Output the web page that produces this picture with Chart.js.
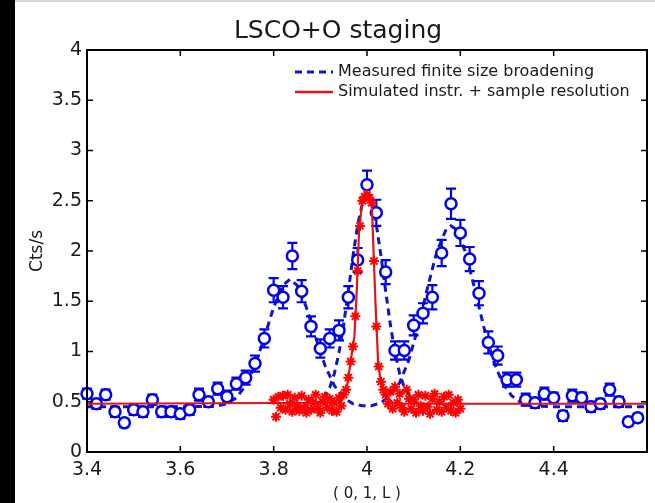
<!DOCTYPE html>
<html>
<head>
<meta charset="utf-8">
<title>LSCO+O staging</title>
<script src="https://cdn.jsdelivr.net/npm/chart.js@4/dist/chart.umd.min.js"></script>
<style>
  html, body { margin: 0; padding: 0; background: #fff; }
  #wrap { position: relative; width: 655px; height: 503px; overflow: hidden; }
  #edge { position: absolute; left: 0; top: 0; width: 15px; height: 503px; background: #000; }
  #topline { position: absolute; left: 15px; top: 0; width: 640px; height: 2px; background: #d8d8d8; }
  canvas { position: absolute; left: 0; top: 0; }
</style>
</head>
<body>
<div id="wrap">
  <div id="edge"></div>
  <div id="topline"></div>
  <canvas id="staging" width="655" height="503"></canvas>
</div>
<script>
// measured scan along (0,1,L) with error bars
const measX = [3.40, 3.42, 3.44, 3.46, 3.48, 3.50, 3.52, 3.54, 3.56, 3.58,
               3.60, 3.62, 3.64, 3.66, 3.68, 3.70, 3.72, 3.74, 3.76, 3.78,
               3.80, 3.82, 3.84, 3.86, 3.88, 3.90, 3.92, 3.94, 3.96, 3.98,
               4.00, 4.02, 4.04, 4.06, 4.08, 4.10, 4.12, 4.14, 4.16, 4.18,
               4.20, 4.22, 4.24, 4.26, 4.28, 4.30, 4.32, 4.34, 4.36, 4.38,
               4.40, 4.42, 4.44, 4.46, 4.48, 4.50, 4.52, 4.54, 4.56, 4.58];
const measY = [0.58, 0.48, 0.57, 0.40, 0.29, 0.42, 0.40, 0.52, 0.40, 0.40,
               0.38, 0.42, 0.57, 0.50, 0.63, 0.55, 0.68, 0.74, 0.88, 1.13,
               1.61, 1.54, 1.95, 1.60, 1.25, 1.03, 1.13, 1.21, 1.54, 1.91,
               2.66, 2.38, 1.79, 1.01, 1.01, 1.26, 1.38, 1.54, 1.98, 2.47,
               2.18, 1.92, 1.58, 1.09, 0.96, 0.72, 0.72, 0.52, 0.49, 0.58,
               0.54, 0.36, 0.56, 0.54, 0.45, 0.48, 0.62, 0.50, 0.30, 0.34];
const measErr = [0.05, 0.05, 0.05, 0.05, 0.04, 0.05, 0.05, 0.05, 0.05, 0.05,
                 0.05, 0.05, 0.06, 0.05, 0.06, 0.06, 0.06, 0.07, 0.08, 0.09,
                 0.12, 0.11, 0.13, 0.11, 0.10, 0.09, 0.09, 0.10, 0.11, 0.12,
                 0.14, 0.13, 0.12, 0.09, 0.09, 0.10, 0.10, 0.12, 0.13, 0.15,
                 0.13, 0.12, 0.12, 0.11, 0.09, 0.07, 0.07, 0.06, 0.05, 0.06,
                 0.05, 0.05, 0.06, 0.05, 0.05, 0.05, 0.06, 0.05, 0.04, 0.04];

// dashed fit: the two staging satellites
const satX = [3.40, 3.60, 3.66, 3.68, 3.70, 3.72, 3.74, 3.76, 3.78, 3.80,
              3.82, 3.835, 3.85, 3.87, 3.89, 3.91, 3.93, 3.95, 3.97, 3.99,
              4.01, 4.03, 4.05, 4.07, 4.09, 4.11, 4.13, 4.15, 4.17, 4.18,
              4.19, 4.21, 4.23, 4.25, 4.27, 4.29, 4.31, 4.33, 4.35, 4.40, 4.60];
const satY = [0.45, 0.45, 0.455, 0.46, 0.48, 0.54, 0.66, 0.86, 1.14, 1.44,
              1.66, 1.72, 1.66, 1.44, 1.14, 0.86, 0.66, 0.54, 0.48, 0.46,
              0.46, 0.49, 0.56, 0.69, 0.92, 1.25, 1.64, 2.00, 2.22, 2.25,
              2.22, 2.00, 1.64, 1.25, 0.92, 0.69, 0.56, 0.49, 0.46, 0.45, 0.45];

// dashed fit: central peak
const peakX = [3.86, 3.90, 3.92, 3.93, 3.94, 3.95, 3.96, 3.97, 3.98, 3.99, 4.00,
               4.01, 4.02, 4.03, 4.04, 4.05, 4.06, 4.07, 4.08, 4.10, 4.14];
const peakY = [0.45, 0.50, 0.64, 0.78, 0.99, 1.27, 1.60, 1.95, 2.26, 2.47, 2.55,
               2.47, 2.26, 1.95, 1.60, 1.27, 0.99, 0.78, 0.64, 0.50, 0.45];

// simulated resolution, line
const simLineX = [3.40, 3.94, 3.95, 3.958, 3.965, 3.973, 3.978, 3.983, 3.99, 4.00,
                  4.01, 4.014, 4.018, 4.024, 4.03, 4.043, 4.055, 4.07, 4.60];
const simLineY = [0.48, 0.49, 0.55, 0.68, 0.90, 1.15, 1.60, 2.20, 2.50, 2.55,
                  2.50, 2.00, 1.50, 0.88, 0.68, 0.55, 0.49, 0.48, 0.48];

// simulated resolution, points
const simX = [3.800, 3.805, 3.810, 3.815, 3.820, 3.825, 3.830, 3.835, 3.840, 3.845,
              3.850, 3.855, 3.860, 3.865, 3.870, 3.875, 3.880, 3.885, 3.890, 3.895,
              3.900, 3.905, 3.910, 3.915, 3.920, 3.925, 3.930, 3.935, 3.940, 3.945,
              3.950, 3.955, 3.960, 3.965, 3.970, 3.975, 3.980, 3.985, 3.990, 3.995,
              4.000, 4.005, 4.010, 4.015, 4.020, 4.025, 4.030, 4.035, 4.040, 4.045,
              4.050, 4.055, 4.060, 4.065, 4.070, 4.075, 4.080, 4.085, 4.090, 4.095,
              4.100, 4.105, 4.110, 4.115, 4.120, 4.125, 4.130, 4.135, 4.140, 4.145,
              4.150, 4.155, 4.160, 4.165, 4.170, 4.175, 4.180, 4.185, 4.190, 4.195, 4.200];
const simY = [0.52, 0.35, 0.55, 0.44, 0.56, 0.42, 0.57, 0.48, 0.40, 0.54,
              0.46, 0.41, 0.56, 0.44, 0.39, 0.52, 0.42, 0.49, 0.57, 0.43,
              0.39, 0.50, 0.55, 0.44, 0.53, 0.41, 0.49, 0.40, 0.54, 0.46,
              0.57, 0.62, 0.74, 0.90, 1.05, 1.35, 1.80, 2.25, 2.50, 2.54,
              2.56, 2.53, 2.48, 1.90, 1.25, 0.85, 0.70, 0.62, 0.57, 0.48,
              0.60, 0.43, 0.65, 0.49, 0.58, 0.44, 0.40, 0.62, 0.53, 0.43,
              0.52, 0.39, 0.57, 0.46, 0.41, 0.56, 0.45, 0.38, 0.53, 0.58,
              0.42, 0.50, 0.40, 0.55, 0.44, 0.57, 0.41, 0.49, 0.39, 0.52, 0.43];

const legendLabels = ['Measured finite size broadening', 'Simulated instr. + sample resolution'];

const textColor = '#1a1a1a';
const measColor = '#0000ee';
const fitColor = '#1414c4';
const simColor = '#ff0000';
const simLineColor = '#e01515';
const MEAS_INDEX = 2;

function toPoints(xs, ys) {
    return xs.map((x, i) => ({ x: x, y: ys[i] }));
}

// matlab drops the trailing zero: 4, 3.5, 3 ...
function tickText(v) {
    return String(parseFloat(v.toFixed(1)));
}

Chart.defaults.font.family = '"DejaVu Sans", sans-serif';
Chart.defaults.color = textColor;

// vertical error bars for the measured points, drawn just under the circles
const errorBars = {
    id: 'errorBars',
    beforeDatasetDraw(chart, args) {
        if (args.index !== MEAS_INDEX) return;
        const xs = chart.scales.x;
        const ys = chart.scales.y;
        const ctx = chart.ctx;
        ctx.save();
        ctx.strokeStyle = measColor;
        ctx.lineWidth = 2.2;
        measX.forEach((x, i) => {
            const px = xs.getPixelForValue(x);
            const top = ys.getPixelForValue(measY[i] + measErr[i]);
            const bot = ys.getPixelForValue(measY[i] - measErr[i]);
            ctx.beginPath();
            ctx.moveTo(px, top); ctx.lineTo(px, bot);
            ctx.moveTo(px - 5, top); ctx.lineTo(px + 5, top);
            ctx.moveTo(px - 5, bot); ctx.lineTo(px + 5, bot);
            ctx.stroke();
        });
        ctx.restore();
    }
};

// matlab style box, inward ticks and the legend in the upper right
const axesBox = {
    id: 'axesBox',
    afterDraw(chart) {
        const ctx = chart.ctx;
        const a = chart.chartArea;
        const tl = 6;
        ctx.save();
        ctx.strokeStyle = '#000';
        ctx.lineWidth = 2;
        ctx.strokeRect(a.left, a.top, a.right - a.left, a.bottom - a.top);
        ctx.beginPath();
        chart.scales.x.ticks.forEach(t => {
            const px = chart.scales.x.getPixelForValue(t.value);
            ctx.moveTo(px, a.bottom); ctx.lineTo(px, a.bottom - tl);
            ctx.moveTo(px, a.top); ctx.lineTo(px, a.top + tl);
        });
        chart.scales.y.ticks.forEach(t => {
            const py = chart.scales.y.getPixelForValue(t.value);
            ctx.moveTo(a.left, py); ctx.lineTo(a.left + tl, py);
            ctx.moveTo(a.right, py); ctx.lineTo(a.right - tl, py);
        });
        ctx.lineWidth = 1.5;
        ctx.stroke();

        // legend
        const lx = a.left + 208;
        const ly = a.top + 22;
        ctx.lineWidth = 3;
        ctx.strokeStyle = fitColor;
        ctx.setLineDash([7, 5]);
        ctx.beginPath();
        ctx.moveTo(lx, ly); ctx.lineTo(lx + 38, ly);
        ctx.stroke();
        ctx.setLineDash([]);
        ctx.lineWidth = 2.5;
        ctx.strokeStyle = simLineColor;
        ctx.beginPath();
        ctx.moveTo(lx, ly + 20); ctx.lineTo(lx + 38, ly + 20);
        ctx.stroke();
        ctx.fillStyle = textColor;
        ctx.font = '16px "DejaVu Sans"';
        ctx.textBaseline = 'middle';
        ctx.fillText(legendLabels[0], lx + 43, ly);
        ctx.fillText(legendLabels[1], lx + 43, ly + 20);
        ctx.restore();
    }
};

new Chart(document.getElementById('staging'), {
    type: 'scatter',
    data: {
        datasets: [
            {
                label: 'sim points',
                data: toPoints(simX, simY),
                pointStyle: 'star',
                pointRadius: 5,
                borderWidth: 2,
                borderColor: simColor,
                backgroundColor: simColor,
                clip: false
            },
            {
                label: legendLabels[1],
                data: toPoints(simLineX, simLineY),
                showLine: true,
                pointRadius: 0,
                borderWidth: 2.2,
                borderColor: simLineColor,
                clip: false
            },
            {
                label: 'measured',
                data: toPoints(measX, measY),
                pointStyle: 'circle',
                pointRadius: 5.5,
                borderWidth: 2.5,
                borderColor: measColor,
                backgroundColor: '#fff',
                clip: false
            },
            {
                label: legendLabels[0],
                data: toPoints(satX, satY),
                showLine: true,
                pointRadius: 0,
                borderWidth: 3,
                borderDash: [7, 5],
                borderColor: fitColor,
                clip: false
            },
            {
                label: 'central peak',
                data: toPoints(peakX, peakY),
                showLine: true,
                pointRadius: 0,
                borderWidth: 3,
                borderDash: [7, 5],
                borderColor: fitColor,
                clip: false
            }
        ]
    },
    options: {
        responsive: false,
        animation: false,
        devicePixelRatio: 1,
        layout: { padding: { left: 25, right: 4, top: 0, bottom: 0 } },
        plugins: {
            legend: { display: false },
            tooltip: { enabled: false },
            title: {
                display: true,
                text: 'LSCO+O staging',
                color: textColor,
                font: { size: 25, weight: 'normal' },
                padding: { top: 16, bottom: 4 }
            }
        },
        scales: {
            x: {
                type: 'linear',
                min: 3.4,
                max: 4.6,
                afterFit: (s) => { s.height = 51; },
                grid: { display: false, drawTicks: false },
                border: { display: false },
                ticks: {
                    stepSize: 0.2,
                    padding: 7,
                    maxRotation: 0,
                    font: { size: 19 },
                    callback: (v) => v > 4.5 ? '' : tickText(v)
                },
                title: { display: true, text: '( 0, 1, L )', font: { size: 15 }, padding: 0 }
            },
            y: {
                min: 0,
                max: 4,
                afterFit: (s) => { s.width = 62; },
                grid: { display: false, drawTicks: false },
                border: { display: false },
                ticks: { stepSize: 0.5, padding: 5, font: { size: 19 }, callback: (v) => tickText(v) },
                title: { display: true, text: 'Cts/s', font: { size: 17 }, padding: { top: 2, bottom: 0 } }
            }
        }
    },
    plugins: [errorBars, axesBox]
});
</script>
</body>
</html>
